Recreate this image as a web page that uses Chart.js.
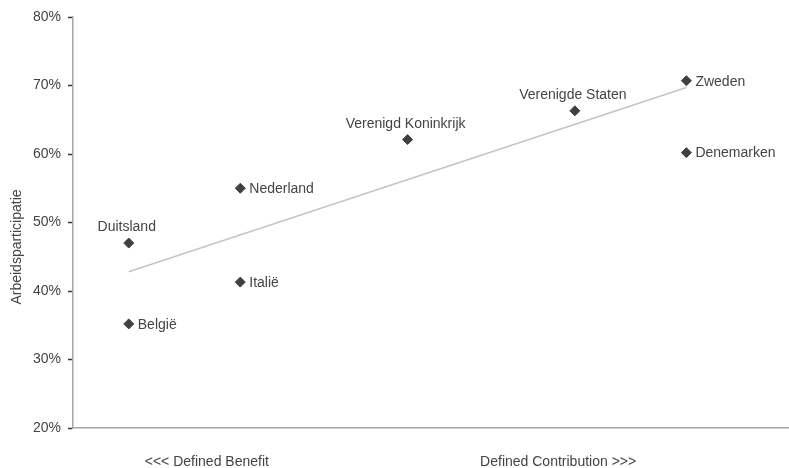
<!DOCTYPE html>
<html>
<head>
<meta charset="utf-8">
<script src="https://cdn.jsdelivr.net/npm/chart.js@4/dist/chart.umd.min.js"></script>
<style>
    html, body { margin: 0; padding: 0; background: #fff; overflow: hidden; }
    canvas { display: block; }
</style>
</head>
<body>
<canvas id="chart" width="789" height="468"></canvas>
<script>
// ─── Data ─────────────────────────────────────────────────────────────────
const countries   = ['Duitsland', 'België', 'Nederland', 'Italië', 'Verenigd Koninkrijk', 'Verenigde Staten', 'Zweden', 'Denemarken'];
const pensionType = [1, 1, 2, 2, 3.5, 5, 6, 6];              // position on the DB → DC axis
const participation = [47.0, 35.2, 55.0, 41.3, 62.1, 66.3, 70.7, 60.2];
const trendX      = [1, 6];
const trendY      = [42.8, 69.7];
const xTickLabels = ['<<< Defined Benefit', 'Defined Contribution >>>'];
const xTickValues = [1.7, 4.85];
const yTicks      = [20, 30, 40, 50, 60, 70, 80];

// label placement per point: 'top' = centred above, 'right' = beside
const labelPlacement = ['top', 'right', 'right', 'right', 'top', 'top', 'right', 'right'];

const FONT  = '"Liberation Sans", Arial, sans-serif';
const TEXT  = '#444444';
const MARK  = '#404040';

// Draw country names next to the diamonds
const pointLabels = {
    id: 'pointLabels',
    afterDatasetsDraw(chart) {
        const { ctx } = chart;
        const meta = chart.getDatasetMeta(1);
        ctx.save();
        ctx.font = '14px ' + FONT;
        ctx.fillStyle = TEXT;
        meta.data.forEach((pt, i) => {
            if (labelPlacement[i] === 'top') {
                ctx.textAlign = 'center';
                ctx.textBaseline = 'alphabetic';
                ctx.fillText(countries[i], pt.x - 2, pt.y - 12);
            } else {
                ctx.textAlign = 'left';
                ctx.textBaseline = 'middle';
                ctx.fillText(countries[i], pt.x + 9, pt.y + 1);
            }
        });
        ctx.restore();
    },
};

// Y-axis title sits a little below the centre of the axis in the original
const yTitle = {
    id: 'yTitle',
    afterDraw(chart) {
        const { ctx } = chart;
        ctx.save();
        ctx.translate(17, 247);
        ctx.rotate(-Math.PI / 2);
        ctx.font = '14px ' + FONT;
        ctx.fillStyle = TEXT;
        ctx.textAlign = 'center';
        ctx.textBaseline = 'middle';
        ctx.fillText('Arbeidsparticipatie', 0, 0);
        ctx.restore();
    },
};

new Chart(document.getElementById('chart'), {
    type: 'scatter',
    data: {
        datasets: [
            {
                type: 'line',
                data: trendX.map((x, i) => ({ x, y: trendY[i] })),
                borderColor: '#c4c4c4',
                borderWidth: 1.5,
                pointRadius: 0,
                fill: false,
            },
            {
                data: pensionType.map((x, i) => ({ x, y: participation[i] })),
                pointStyle: 'rectRot',
                pointRadius: 5,
                pointHoverRadius: 5,
                backgroundColor: MARK,
                borderColor: MARK,
                borderWidth: 1,
            },
        ],
    },
    options: {
        responsive: false,
        animation: false,
        layout: { autoPadding: false, padding: { top: 17, right: 0, bottom: 0, left: 0 } },
        plugins: { legend: { display: false }, tooltip: { enabled: false } },
        scales: {
            x: {
                type: 'linear',
                min: 0.5,
                max: 6.92,
                afterBuildTicks: s => { s.ticks = xTickValues.map(value => ({ value })); },
                afterFit: s => { s.height = 40; },
                ticks: {
                    color: TEXT,
                    font: { family: FONT, size: 14 },
                    padding: 26,
                    maxRotation: 0,
                    autoSkip: false,
                    callback: (v, i) => xTickLabels[i],
                },
                grid: { drawOnChartArea: false, drawTicks: false },
                border: { color: '#a6a6a6', width: 1.5 },
            },
            y: {
                min: 20,
                max: 80,
                afterBuildTicks: s => { s.ticks = yTicks.map(value => ({ value })); },
                afterFit: s => { s.width = 73; },
                ticks: {
                    color: TEXT,
                    font: { family: FONT, size: 14 },
                    padding: 7,
                    callback: v => v + '%',
                },
                grid: { drawOnChartArea: false, tickLength: 5, tickColor: '#333', tickWidth: 1.5 },
                border: { color: '#a6a6a6', width: 1.5 },
            },
        },
    },
    plugins: [pointLabels, yTitle],
});
</script>
</body>
</html>
